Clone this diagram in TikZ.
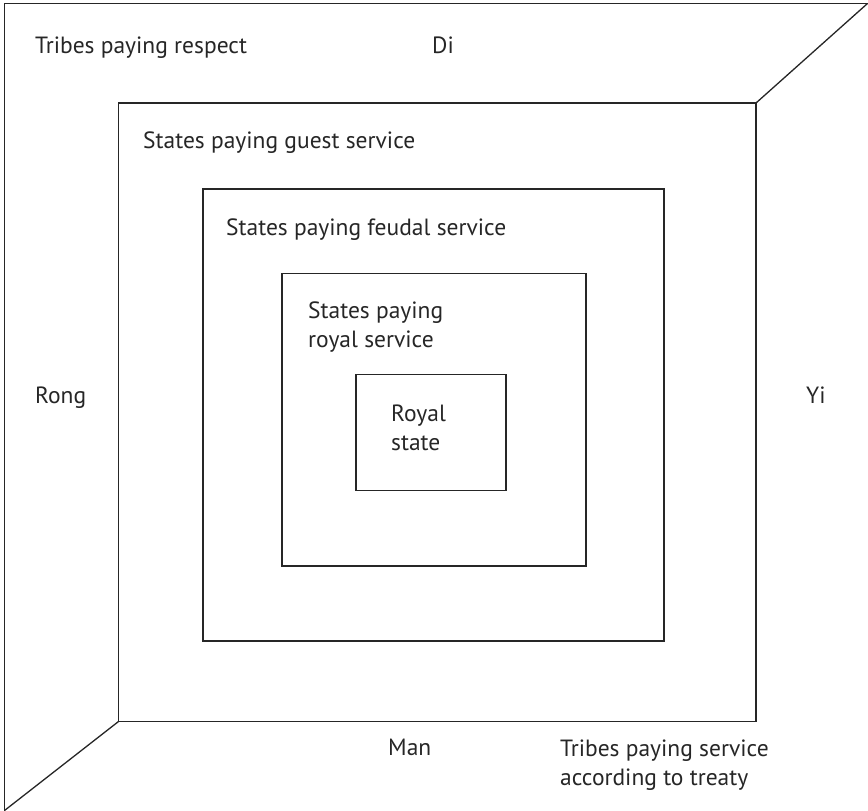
\documentclass[tikz,border=0pt]{standalone}
\usepackage{fontspec}
\setmainfont{PT Sans}
\begin{document}
\begin{tikzpicture}[x=1pt,y=-1pt,
  frame/.style={draw=black!85,line width=1.3pt},
  lbl/.style={inner sep=0pt,anchor=base west,align=left,font=\fontsize{23.5}{28.5}\selectfont,text=black!85}]
\useasboundingbox (0,0) rectangle (868,811);
% outer frame corners
\coordinate (otl) at (4.5,3.5);
\coordinate (otr) at (867.5,3.5);
\coordinate (obl) at (4.5,810.5);
% boxes
\coordinate (b2tl) at (118.5,103);
\coordinate (b2br) at (756,721.5);
\coordinate (b2tr) at (756,103);
\coordinate (b2bl) at (118.5,721.5);
\draw[frame] (obl) -- (otl) -- (otr);
\draw[frame] (otr) -- (b2tr);
\draw[frame] (obl) -- (b2bl);
\draw[frame] (b2tl) rectangle (b2br);
\draw[frame] (203,189) coordinate (b3tl) rectangle (664,641) coordinate (b3br);
\draw[frame] (282,273.5) coordinate (b4tl) rectangle (586,566) coordinate (b4br);
\draw[frame] (356,374.5) coordinate (b5tl) rectangle (506,490.5) coordinate (b5br);
% labels (multi-line labels are anchored at the baseline of their last line)
\node[lbl] (tresp) at (35,53) {Tribes paying respect};
\node[lbl] (di) at (432,53) {Di};
\node[lbl] (guest) at (143,148) {States paying guest service};
\node[lbl] (feudal) at (226,235) {States paying feudal service};
\node[lbl] (royalsv) at (308,347) {States paying\\royal service};
\node[lbl] (royal) at (391,450) {Royal\\state};
\node[lbl] (rong) at (35,403) {Rong};
\node[lbl] (yi) at (806,403) {Yi};
\node[lbl] (man) at (388,755) {Man};
\node[lbl] (treaty) at (560,785) {Tribes paying service\\according to treaty};
\end{tikzpicture}
\end{document}
